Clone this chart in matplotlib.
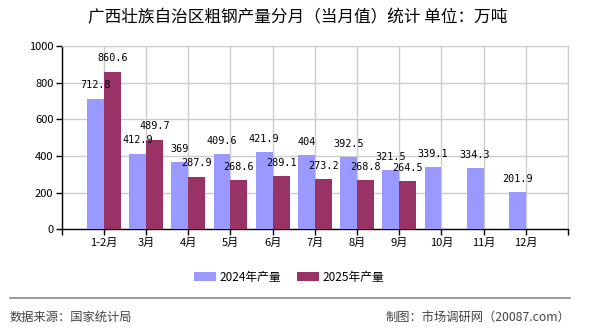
import numpy as np
import matplotlib.pyplot as plt

plt.rcParams['font.family'] = ['Noto Sans CJK SC', 'DejaVu Sans']

months = ['1-2月', '3月', '4月', '5月', '6月', '7月', '8月', '9月', '10月', '11月', '12月']
out_2024 = [712.8, 412.9, 369, 409.6, 421.9, 404, 392.5, 321.5, 339.1, 334.3, 201.9]
out_2025 = [860.6, 489.7, 287.9, 268.6, 289.1, 273.2, 268.8, 264.5]
labels_2024 = ['712.8', '412.9', '369', '409.6', '421.9', '404', '392.5', '321.5', '339.1', '334.3', '201.9']
labels_2025 = ['860.6', '489.7', '287.9', '268.6', '289.1', '273.2', '268.8', '264.5']

c24 = '#9999ff'
c25 = '#993366'
w = 0.4

fig = plt.figure(figsize=(5.9, 3.3), dpi=100)
ax = fig.add_axes([0.1046, 0.305, 0.8581, 0.5556])

x24 = np.arange(len(out_2024))
x25 = np.arange(len(out_2025))
b1 = ax.bar(x24 - w / 2, out_2024, width=w, color=c24, zorder=3, label='2024年产量')
b2 = ax.bar(x25 + w / 2, out_2025, width=w, color=c25, zorder=3, label='2025年产量')

# value labels above each bar
for xi, v, s in zip(x24, out_2024, labels_2024):
    ax.annotate(s, (xi - w / 2, v), xytext=(0, 9.5), textcoords='offset points',
                ha='center', va='center', fontsize=7.3, family='DejaVu Sans Mono', zorder=4)
for xi, v, s in zip(x25, out_2025, labels_2025):
    ax.annotate(s, (xi + w / 2, v), xytext=(0, 9.5), textcoords='offset points',
                ha='center', va='center', fontsize=7.3, family='DejaVu Sans Mono', zorder=4)

ax.set_xlim(-1, 11)
ax.set_ylim(0, 1000)
ax.set_yticks(np.arange(0, 1001, 200))
ax.set_xticks(np.arange(-1, 12))
ax.set_xticklabels([''] + months + [''])
ax.tick_params(axis='both', labelsize=8, length=4, width=1, color='black', pad=2)
ax.grid(True, color='#cccccc', linewidth=1, zorder=0)
ax.set_axisbelow(True)
for side in ['top', 'right']:
    ax.spines[side].set_color('#cccccc')
for side in ['left', 'bottom']:
    ax.spines[side].set_color('black')
    ax.spines[side].set_linewidth(1)

fig.text(0.505, 0.945, '广西壮族自治区粗钢产量分月（当月值）统计 单位：万吨',
         ha='center', va='center', fontsize=12)

fig.legend(handles=[b1, b2], loc='center', bbox_to_anchor=(0.49, 0.16), ncol=2,
           frameon=False, fontsize=8.5, handlelength=1.8, handleheight=0.8,
           handletextpad=0.3, columnspacing=1.4)

fig.add_artist(plt.Line2D([10 / 590, 570 / 590], [1 - 298 / 330] * 2,
                          color='#888888', linewidth=1.2, transform=fig.transFigure))
fig.text(10 / 590, 1 - 317 / 330, '数据来源：国家统计局', ha='left', va='center',
         fontsize=8.8, color='#444444')
fig.text(570 / 590, 1 - 317 / 330, '制图：市场调研网（20087.com）', ha='right', va='center',
         fontsize=8.8, color='#444444')

fig.savefig('out.png', dpi=100)
